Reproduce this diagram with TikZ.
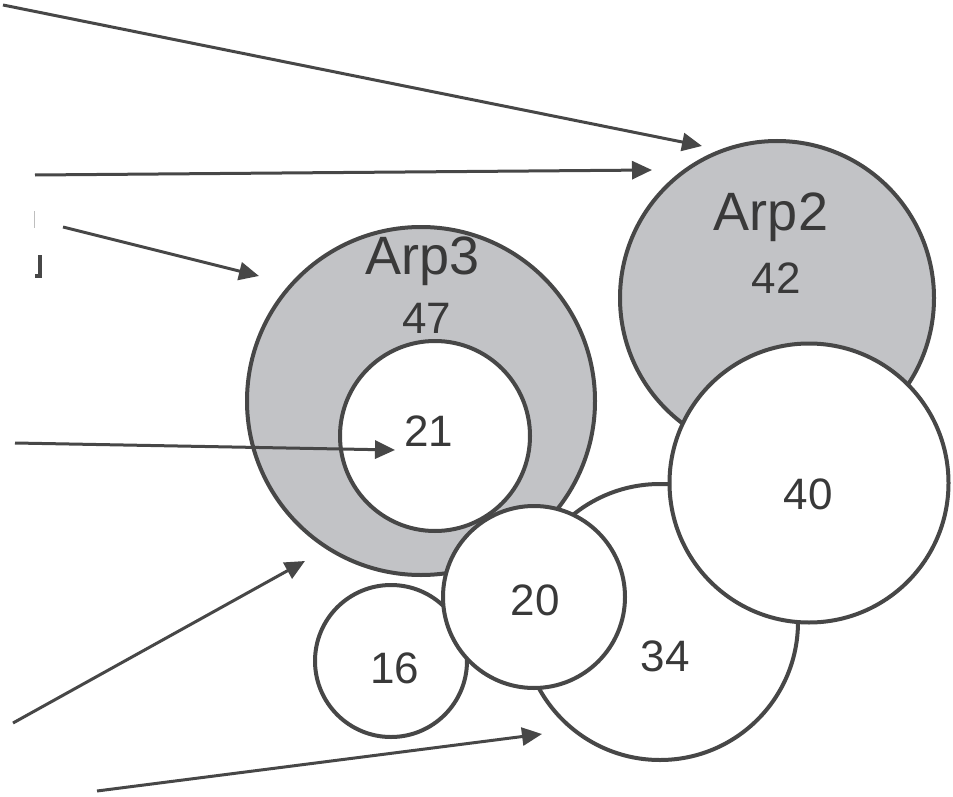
\documentclass[tikz,border=0pt]{standalone}
\usepackage{fontspec}
\setmainfont{Liberation Sans}
\usetikzlibrary{positioning, arrows.meta}
\definecolor{ink}{HTML}{474747}
\definecolor{shade}{HTML}{C2C3C6}
\tikzset{
  sub/.style={circle, draw=ink, line width=4pt, fill=white, inner sep=0pt},
  subgray/.style={sub, fill=shade},
  num/.style={text=ink!80!black, font=\fontsize{44}{44}\selectfont, inner sep=0pt},
  arpname/.style={text=ink!80!black, font=\fontsize{54}{54}\selectfont, inner sep=0pt},
  ar/.style={-{Triangle[length=20pt, width=18pt]}, line width=3pt, ink},
}
\begin{document}
\begin{tikzpicture}[x=1pt, y=-1pt]
  \useasboundingbox (0,0) rectangle (953,797);
  % subunits, back to front
  \node[sub, minimum size=276pt] (p34) at (660,622) {};
  \node[subgray, minimum size=348pt] (arp3) at (421,401) {};
  \node[sub, minimum size=190pt] (p21) at (435,436) {};
  \node[sub, minimum size=152pt] (p16) at (391,661) {};
  \node[subgray, minimum size=314pt] (arp2) at (777,298) {};
  \node[sub, minimum size=279pt] (p40) at (809,483) {};
  \node[sub, minimum size=182pt] (p20) at (534,597) {};

  % labels
  \node[arpname] (arp3name) at (423,261) {Arp3};
  \node[num] (arp3num) at (427,318) {47};
  \node[arpname] (arp2name) at (771,217) {Arp2};
  \node[num] (arp2num) at (776,278) {42};
  \node[num] (l21) at (429,431) {21};
  \node[num] (l40) at (808,494) {40};
  \node[num] (l20) at (535,600) {20};
  \node[num] (l34) at (665,656) {34};
  \node[num] (l16) at (395,668) {16};

  % arrow ends
  \coordinate (s1) at (3,5);     \coordinate (t1) at (702,146);
  \coordinate (s2) at (35,175);  \coordinate (t2) at (652,170);
  \coordinate (s3) at (63,227);  \coordinate (t3) at (259,276);
  \coordinate (s4) at (15,443);  \coordinate (t4) at (395,450);
  \coordinate (s5) at (13,723);  \coordinate (t5) at (305,561);
  \coordinate (s6) at (97,791);  \coordinate (t6) at (542,734);

  \draw[ar] (s1) -- (t1);
  \draw[ar] (s2) -- (t2);
  \draw[ar] (s3) -- (t3);
  \draw[ar] (s4) -- (t4);
  \draw[ar] (s5) -- (t5);
  \draw[ar] (s6) -- (t6);

  % cut-off label fragments at the left edge
  \coordinate (f1) at (34,211);
  \coordinate (f2) at (34,228);
  \draw[ink!35, line width=1pt] (f1) -- (f2);
  \coordinate (g1) at (40,255);
  \coordinate (g2) at (40,276);
  \coordinate (g3) at (35,276);
  \draw[ink, line width=3.5pt] (g1) -- (g2) -- (g3);
\end{tikzpicture}
\end{document}
